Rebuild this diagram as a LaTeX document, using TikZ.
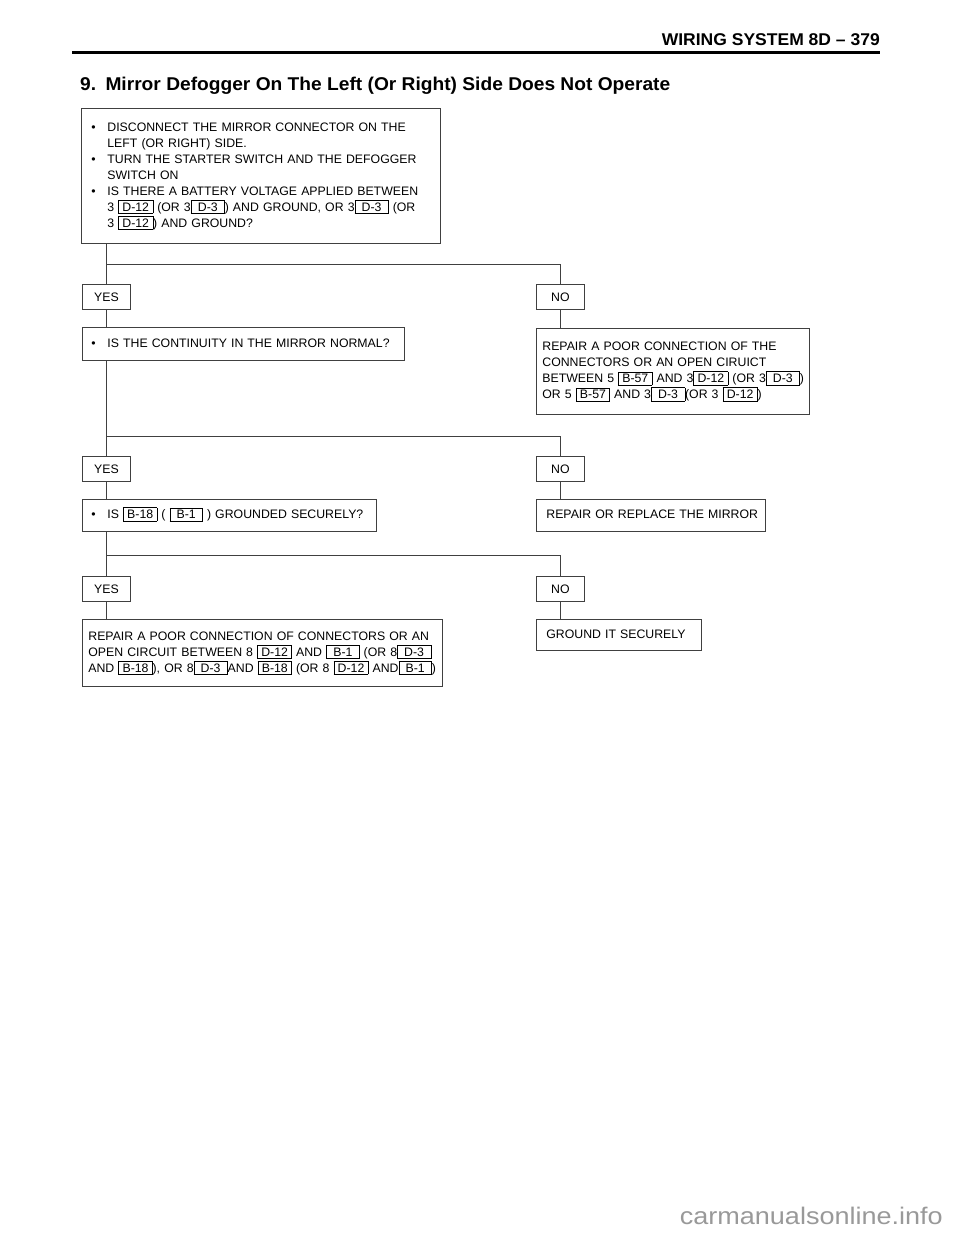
\documentclass[tikz,border=0pt]{standalone}
\usepackage{fontspec}
\setmainfont{Liberation Sans}
\usepackage{graphicx}
\newcommand\cb[1]{{\fboxsep=2pt\fboxrule=0.6pt\fbox{\kern1.5pt#1\kern1.5pt}}}
\newcommand\cbs[1]{{\fboxsep=2pt\fboxrule=0.6pt\fbox{\kern4.5pt#1\kern4.5pt}}}
\newcommand\fs{\fontsize{12.3}{16}\selectfont}
\definecolor{linec}{gray}{0.25}
\definecolor{wmark}{gray}{0.6}
\begin{document}
\begin{tikzpicture}[x=1pt,y=-1pt,
 box/.style={draw=linec, line width=0.8pt, anchor=north west, align=left, inner ysep=0pt, font=\fs},
 yn/.style={draw=linec, line width=0.8pt, anchor=north west, inner sep=0pt, minimum width=48pt, minimum height=25pt, font=\fs},
 conn/.style={draw=linec, line width=0.8pt},
 rule/.style={draw=black, line width=3pt}]
\useasboundingbox (0,0) rectangle (960,1242);
% header
\node[anchor=base east, inner sep=0pt, font=\bfseries\fontsize{17}{19}\selectfont] (hdr) at (880,45) {\resizebox{218pt}{\height}{WIRING SYSTEM 8D – 379}};
\coordinate (rl) at (72,52);
\coordinate (rr) at (880,52);
\draw[rule] (rl) -- (rr);
\node[anchor=base west, inner sep=0pt, font=\bfseries\fontsize{18.5}{21}\selectfont] (title) at (80,90) {\resizebox{590pt}{\height}{9.\hspace{9pt}Mirror Defogger On The Left (Or Right) Side Does Not Operate}};
% boxes
\node[box, inner xsep=10pt, text width=339pt, minimum height=135pt] (b1) at (81,108) {%
\begin{tabular}{@{}p{16pt}@{}l@{}}
\textbullet & DISCONNECT THE MIRROR CONNECTOR ON THE\\
& LEFT (OR RIGHT) SIDE.\\
\textbullet & TURN THE STARTER SWITCH AND THE DEFOGGER\\
& SWITCH ON\\
\textbullet & IS THERE A BATTERY VOLTAGE APPLIED BETWEEN\\
& 3 \cb{D-12} (OR 3\cbs{D-3}) AND GROUND, OR 3\cbs{D-3} (OR\\
& 3 \cb{D-12}) AND GROUND?
\end{tabular}};
\node[yn] (y1) at (82,284) {YES};
\node[yn] (n1) at (536,284) {NO};
\node[box, inner xsep=9pt, text width=304pt, minimum height=33pt] (b2) at (82,327) {%
\begin{tabular}{@{}p{16pt}@{}l@{}}
\textbullet & IS THE CONTINUITY IN THE MIRROR NORMAL?
\end{tabular}};
\node[box, inner xsep=6pt, text width=261pt, minimum height=86pt] (r1) at (536,328) {%
\begin{tabular}{@{}l@{}}
REPAIR A POOR CONNECTION OF THE\\
CONNECTORS OR AN OPEN CIRUICT\\
BETWEEN 5 \cb{B-57} AND 3\cb{D-12} (OR 3\cbs{D-3})\\
OR 5 \cb{B-57} AND 3\cbs{D-3}(OR 3 \cb{D-12})
\end{tabular}};
\node[yn] (y2) at (82,456) {YES};
\node[yn] (n2) at (536,456) {NO};
\node[box, inner xsep=9pt, text width=276pt, minimum height=32pt] (b3) at (82,499) {%
\begin{tabular}{@{}p{16pt}@{}l@{}}
\textbullet & IS \cb{B-18} ( \cbs{B-1} ) GROUNDED SECURELY?
\end{tabular}};
\node[box, inner xsep=10pt, text width=209pt, minimum height=32pt] (r2) at (536,499) {%
\begin{tabular}{@{}l@{}}
REPAIR OR REPLACE THE MIRROR
\end{tabular}};
\node[yn] (y3) at (82,576) {YES};
\node[yn] (n3) at (536,576) {NO};
\node[box, inner xsep=6pt, text width=348pt, minimum height=67pt] (b4) at (82,619) {%
\begin{tabular}{@{}l@{}}
REPAIR A POOR CONNECTION OF CONNECTORS OR AN\\
OPEN CIRCUIT BETWEEN 8 \cb{D-12} AND \cbs{B-1} (OR 8\cbs{D-3}\\
AND \cb{B-18}), OR 8\cbs{D-3}AND \cb{B-18} (OR 8 \cb{D-12} AND\cbs{B-1})
\end{tabular}};
\node[box, inner xsep=10pt, text width=145pt, minimum height=31pt] (r3) at (536,619) {%
\begin{tabular}{@{}l@{}}
GROUND IT SECURELY
\end{tabular}};
% connectors
\coordinate (h1) at (0,264);
\coordinate (h2) at (0,436);
\coordinate (h3) at (0,555);
\draw[conn] (b1.south -| y1.north) -- (y1.north);
\draw[conn] (y1.north |- h1) -| (n1.north);
\draw[conn] (y1.south) -- (y1.south |- b2.north);
\draw[conn] (n1.south) -- (n1.south |- r1.north);
\draw[conn] (b2.south -| y2.north) -- (y2.north);
\draw[conn] (y2.north |- h2) -| (n2.north);
\draw[conn] (y2.south) -- (y2.south |- b3.north);
\draw[conn] (n2.south) -- (n2.south |- r2.north);
\draw[conn] (b3.south -| y3.north) -- (y3.north);
\draw[conn] (y3.north |- h3) -| (n3.north);
\draw[conn] (y3.south) -- (y3.south |- b4.north);
\draw[conn] (n3.south) -- (n3.south |- r3.north);
% watermark
\node[anchor=base east, inner sep=0pt, text=wmark, font=\fontsize{24}{28}\selectfont] (wm) at (943,1224) {\resizebox{263pt}{\height}{carmanualsonline.info}};
\end{tikzpicture}
\end{document}
